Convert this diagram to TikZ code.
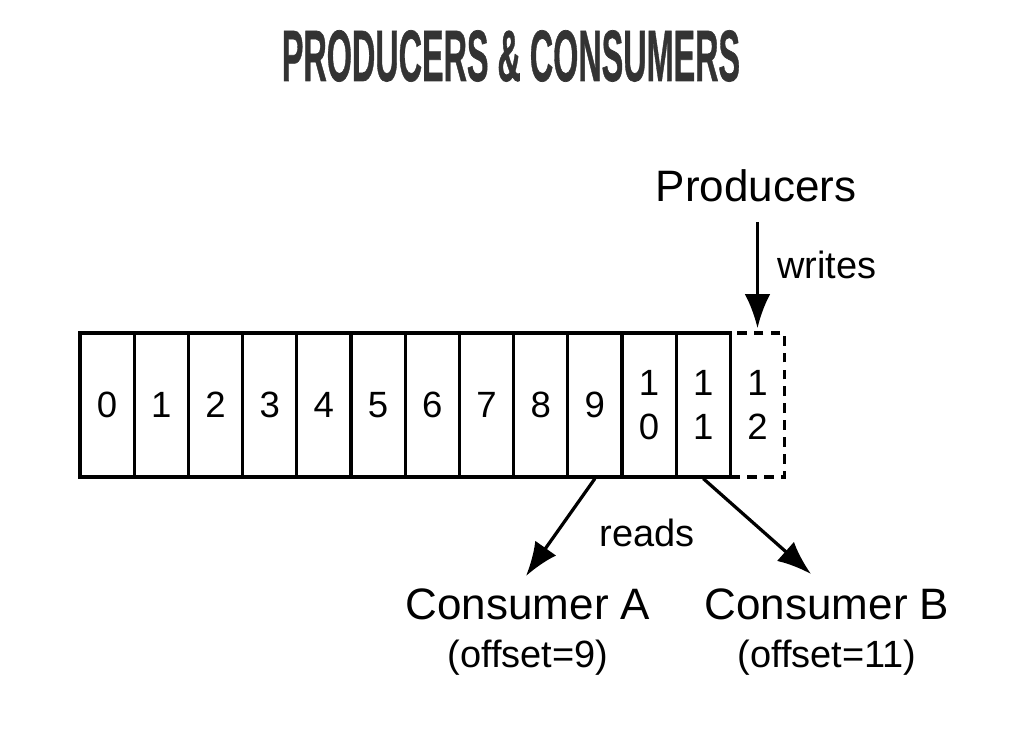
\documentclass[tikz,border=0pt]{standalone}
\usepackage{fontspec}
\setmainfont{Liberation Sans}
\newfontfamily\titlefont[FakeBold=1]{Liberation Sans Bold}
\usepackage{tikz}
\usetikzlibrary{arrows.meta}
\definecolor{titlegray}{HTML}{333333}

\begin{document}
\begin{tikzpicture}[>={Latex[length=0.85cm,width=0.64cm]},line width=2.3pt,
  cell/.style={draw,minimum width=1.355cm,minimum height=3.6cm,inner sep=0pt,align=center,font=\fontsize{26}{31.3}\selectfont},
  big/.style={anchor=base,inner sep=2pt,font=\fontsize{31.3}{36}\selectfont},
  small/.style={anchor=base,inner sep=2pt,font=\fontsize{27}{32}\selectfont}]
 \useasboundingbox (0,0) rectangle (25.6,18.675);
 \node[anchor=base,text=titlegray] (title) at (12.775,16.65) {\scalebox{0.445}[1]{\titlefont\fontsize{51.7}{60}\selectfont PRODUCERS \& CONSUMERS}};
 % the log: one cell per offset, the last one not yet written
 \foreach \i in {0,...,9} \node[cell] (c\i) at ({2.6775+1.355*\i},8.55) {\i};
 \foreach \i/\d in {10/0,11/1} \node[cell] (c\i) at ({2.6775+1.355*\i},8.55) {1\\\d};
 \node[cell,dash pattern=on 7pt off 5pt] (c12) at ({2.6775+1.355*12},8.55) {1\\2};
 \node[big] (prod) at (18.9,13.625) {Producers}; \node[small] (writes) at (20.675,11.7) {writes};
 \draw[->,shorten >=0.08cm] ([yshift=-0.5cm]c12.north |- prod.base) -- (c12.north);
 \node[big] (consA) at (13.2,3.175) {Consumer A}; \node[small] (offA) at (13.2,1.98) {(offset=9)};
 \node[big] (consB) at (20.675,3.175) {Consumer B}; \node[small] (offB) at (20.675,1.98) {(offset=11)};
 \node[small] (reads) at (16.175,5.0) {reads};
 \draw[->] (c9.south) -- ([shift={(-0.05cm,1.1cm)}]consA.base);
 \draw[->] (c11.south) -- ([shift={(-0.4cm,1.15cm)}]consB.base);
\end{tikzpicture}
\end{document}
